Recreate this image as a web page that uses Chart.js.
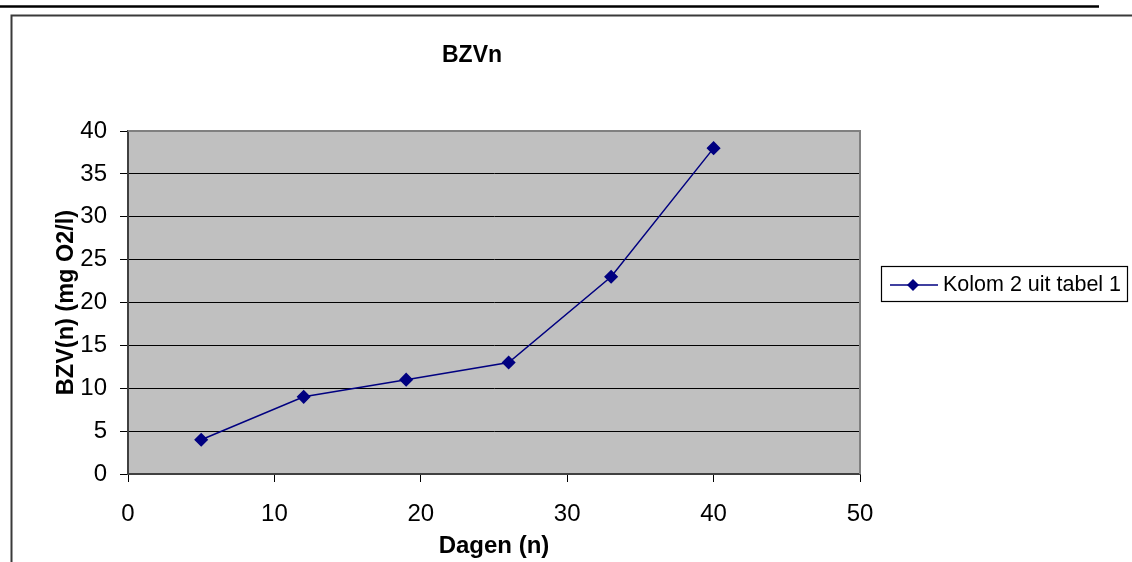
<!DOCTYPE html>
<html>
<head>
<meta charset="utf-8">
<script src="https://cdn.jsdelivr.net/npm/chart.js@4/dist/chart.umd.min.js"></script>
<style>
  body { margin: 0; background: #fff; }
  canvas { display: block; }
</style>
</head>
<body>
<canvas id="chart" width="1132" height="562"></canvas>
<script>
// Gegevens uit de grafiek
const dagen = [5, 12, 19, 26, 33, 40];
const bzv = [4, 9, 11, 13, 23, 38];
const reeksNaam = 'Kolom 2 uit tabel 1';
const titel = 'BZVn';
const xTitel = 'Dagen (n)';
const yTitel = 'BZV(n) (mg O2/l)';

const font = 'Liberation Sans, Arial, sans-serif';
const navy = '#000080';

// Achtergrond van het plotgebied en de kaders rond de grafiek
const kaderPlugin = {
    id: 'kader',
    beforeDraw(chart) {
        const ctx = chart.ctx;
        const a = chart.chartArea;
        ctx.save();
        ctx.fillStyle = '#fff';
        ctx.fillRect(0, 0, chart.width, chart.height);
        // zwarte lijn bovenaan
        ctx.strokeStyle = '#000';
        ctx.lineWidth = 2.5;
        ctx.beginPath();
        ctx.moveTo(0, 6.5);
        ctx.lineTo(1099, 6.5);
        ctx.stroke();
        // rand van het grafiekobject
        ctx.lineWidth = 2;
        ctx.strokeStyle = '#3a3a3a';
        ctx.beginPath();
        ctx.moveTo(1132, 15.5);
        ctx.lineTo(11.5, 15.5);
        ctx.lineTo(11.5, 562);
        ctx.stroke();
        // grijze achtergrond plotgebied
        ctx.fillStyle = '#c0c0c0';
        ctx.fillRect(a.left, a.top, a.right - a.left, a.bottom - a.top);
        ctx.restore();
    },
    beforeDatasetsDraw(chart) {
        const ctx = chart.ctx;
        const a = chart.chartArea;
        ctx.save();
        ctx.strokeStyle = '#808080';
        ctx.lineWidth = 2;
        ctx.beginPath();
        ctx.moveTo(a.left, a.top);
        ctx.lineTo(a.right, a.top);
        ctx.lineTo(a.right, a.bottom);
        ctx.stroke();
        ctx.restore();
    },
    afterDraw(chart) {
        const ctx = chart.ctx;
        ctx.save();
        // titel
        ctx.fillStyle = '#000';
        ctx.font = 'bold 23px ' + font;
        ctx.textAlign = 'center';
        ctx.textBaseline = 'middle';
        ctx.fillText(titel, 472, 56);
        // legenda
        ctx.fillStyle = '#fff';
        ctx.fillRect(881.5, 266.5, 246, 35);
        ctx.strokeStyle = '#000';
        ctx.lineWidth = 1.2;
        ctx.strokeRect(881.5, 266.5, 246, 35);
        ctx.strokeStyle = navy;
        ctx.lineWidth = 1.5;
        ctx.beginPath();
        ctx.moveTo(890, 285);
        ctx.lineTo(938, 285);
        ctx.stroke();
        ctx.fillStyle = navy;
        ctx.beginPath();
        ctx.moveTo(913, 279);
        ctx.lineTo(919, 285);
        ctx.lineTo(913, 291);
        ctx.lineTo(907, 285);
        ctx.closePath();
        ctx.fill();
        ctx.fillStyle = '#000';
        ctx.font = '21.5px ' + font;
        ctx.textAlign = 'left';
        ctx.fillText(chart.data.datasets[0].label, 943, 285);
        ctx.restore();
    }
};

new Chart(document.getElementById('chart'), {
    type: 'scatter',
    data: {
        datasets: [{
            label: reeksNaam,
            data: dagen.map((d, i) => ({ x: d, y: bzv[i] })),
            showLine: true,
            borderColor: navy,
            backgroundColor: navy,
            borderWidth: 1.5,
            pointStyle: 'rectRot',
            pointRadius: 6,
            pointHoverRadius: 6,
        }]
    },
    options: {
        responsive: false,
        animation: false,
        devicePixelRatio: 1,
        layout: { padding: { left: 12, top: 131, right: 272, bottom: 0 } },
        plugins: {
            legend: { display: false },
            title: { display: false },
            tooltip: { enabled: false }
        },
        scales: {
            x: {
                type: 'linear',
                min: 0,
                max: 50,
                ticks: { stepSize: 10, color: '#000', padding: 18, font: { family: font, size: 24 } },
                grid: { drawOnChartArea: false, drawTicks: true, tickLength: 8, color: '#000' },
                border: { color: '#404040', width: 2 },
                title: {
                    display: true,
                    text: xTitel,
                    color: '#000',
                    font: { family: font, size: 24, weight: 'bold', lineHeight: 1.2 },
                    padding: { top: 0, bottom: 1 }
                },
                afterFit(scale) { scale.height = 88; }
            },
            y: {
                min: 0,
                max: 40,
                ticks: { stepSize: 5, color: '#000', padding: 13, font: { family: font, size: 24 } },
                grid: { color: '#000', lineWidth: 1, tickLength: 8 },
                border: { color: '#404040', width: 2 },
                title: {
                    display: true,
                    text: yTitel,
                    color: '#000',
                    font: { family: font, size: 23.5, weight: 'bold', lineHeight: 1.2 },
                    padding: { top: 40, bottom: 0 }
                },
                afterFit(scale) { scale.width = 116; }
            }
        }
    },
    plugins: [kaderPlugin]
});
</script>
</body>
</html>
